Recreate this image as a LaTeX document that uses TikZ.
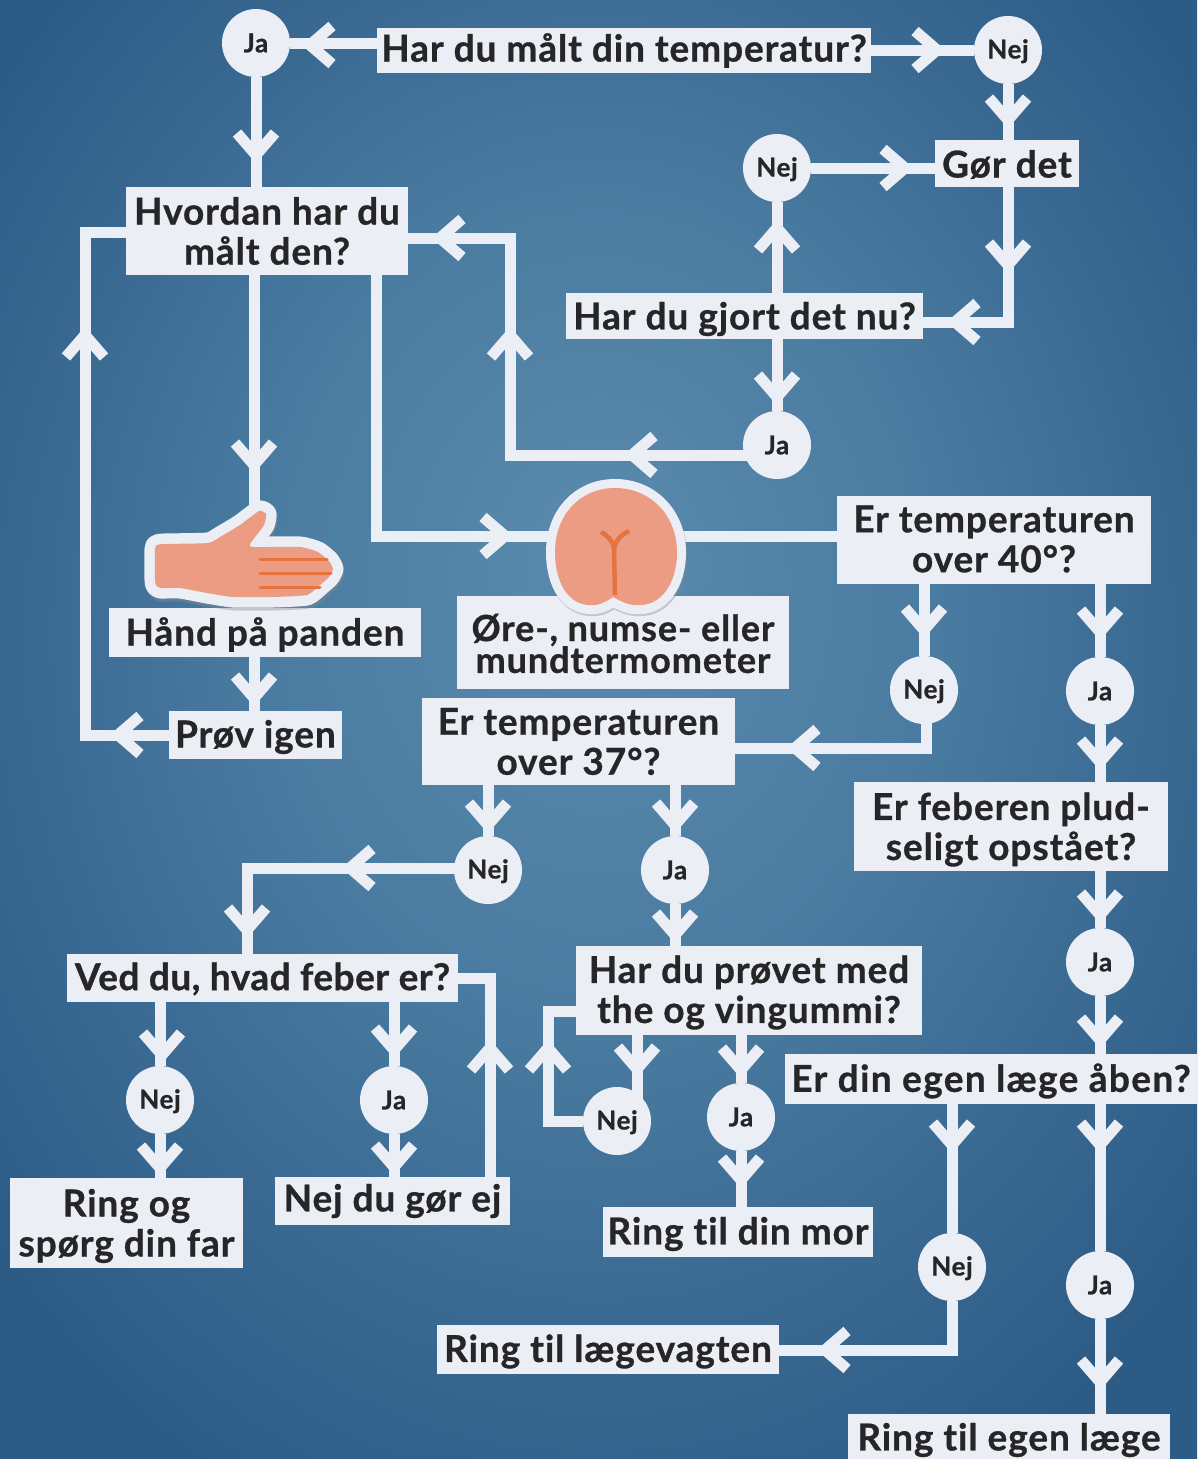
\documentclass[tikz,border=0pt]{standalone}
\usepackage{fontspec}
\setmainfont{Lato}[LetterSpace=2.5,Ligatures=NoCommon,BoldFeatures={FakeBold=0.8}]
\usetikzlibrary{backgrounds}
\pgfdeclarelayer{bgl}\pgfdeclarelayer{conl}\pgfsetlayers{bgl,conl,main}
\definecolor{paper}{HTML}{ECEEF5}
\definecolor{ink}{HTML}{262628}
\definecolor{skin}{HTML}{EB9C82}
\definecolor{crease}{HTML}{E4733F}
\definecolor{bgA}{HTML}{5B8CAF}
\definecolor{bgB}{HTML}{4A7BA0}
\definecolor{bgC}{HTML}{2C5B86}
\pgfdeclareradialshading{bgrad}{\pgfpoint{0bp}{6bp}}{color(0bp)=(bgA);color(14bp)=(bgB);color(32bp)=(bgC);color(50bp)=(bgC)}
\tikzset{
  box/.style={fill=paper,inner sep=0pt},
  boxtext/.style={inner sep=0pt,text=ink,align=center,font=\fontsize{37}{40}\selectfont\bfseries},
  smalltext/.style={inner sep=0pt,text=ink,align=center,font=\fontsize{36}{30}\selectfont\bfseries},
  yn/.style={circle,fill=paper,minimum size=68pt,inner sep=0pt,text=ink,font=\fontsize{26}{28}\selectfont\bfseries},
  nejnode/.style={yn,text height=21.7pt},
  link/.style={draw=paper,line width=11pt,line join=miter},
  chevron/.style={draw=paper,line width=11pt,line join=miter,line cap=butt},
  cutout/.style={draw=paper,line width=21pt,line join=round},
  shadowline/.style={draw=black!45,opacity=.4,line width=21pt,line join=round},
  skinfill/.style={fill=skin},
  creaseline/.style={draw=crease,line width=3pt,line cap=round}
}
\newcommand\bx[7][0]{\node[box,minimum width={(#5-#3)*1pt},minimum height={(#6-#4)*1pt}] (#2) at ({(#3+#5)/2},{(#4+#6)/2}) {};
  \node[boxtext] (#2t) at ([yshift=-#1pt]#2.center) {#7};}
\newcommand\yesno[4]{\node[yn] (#1) at (#2,#3) {#4};}
\newcommand\nono[3]{\node[nejnode] (#1) at (#2,#3) {Nej};}
\newcommand\chev[3]{\draw[chevron,shift={(#1,#2)},rotate=#3] (-19,-22) -- (0,0) -- (19,-22);}
\begin{document}
\begin{tikzpicture}[x=1pt,y=-1pt]
\useasboundingbox (0,0) rectangle (1197,1459);
\begin{pgfonlayer}{bgl}
\shade[shading=bgrad] (0,0) rectangle (1197,1459);
\end{pgfonlayer}
% round nodes
\yesno{jaA}{256}{43}{Ja}
\nono{nejA}{1008}{50}
\nono{nejB}{777}{168}
\yesno{jaB}{777}{445}{Ja}
\nono{nejC}{924}{690}
\yesno{jaC}{1100}{691}{Ja}
\nono{nejD}{488}{870}
\yesno{jaD}{675}{870}{Ja}
\yesno{jaE}{1100}{962}{Ja}
\nono{nejE}{160}{1100}
\yesno{jaF}{394}{1100}{Ja}
\nono{nejF}{617}{1121}
\yesno{jaG}{741}{1117}{Ja}
\nono{nejG}{952}{1267}
\yesno{jaH}{1100}{1285}{Ja}
% boxes
\bx{maalt}{377}{28}{871}{73}{Har du målt din temperatur?}
\bx[1]{goer}{935}{140}{1079}{187}{Gør det}
\bx{hvordan}{126}{187}{408}{275}{Hvordan har du\\målt den?}
\bx[3]{gjort}{566}{293}{923}{339}{Har du gjort det nu?}
\bx[-1]{over}{837}{496}{1151}{584}{Er temperaturen\\over 40°?}
\bx[2]{haand}{109}{608}{421}{657}{Hånd på panden}
\bx[2]{proev}{169}{711}{342}{759}{Prøv igen}
\node[box,minimum width=332pt,minimum height=93pt] (term) at (623,642.5) {};
\bx{lav}{422}{698}{735}{785}{Er temperaturen\\over 37°?}
\bx[3]{feber}{854}{782}{1168}{871}{Er feberen plud-\\seligt opstået?}
\bx[1]{ved}{67}{954}{458}{1002}{\addfontfeature{LetterSpace=1.3}Ved du, hvad feber er?}
\bx[2]{the}{576}{946}{922}{1035}{Har du prøvet med\\the og vingummi?}
\bx[2]{aaben}{785}{1054}{1197}{1104}{\addfontfeature{LetterSpace=3.7}Er din egen læge åben?}
\bx[3]{far}{10}{1178}{243}{1268}{Ring og\\spørg din far}
\bx{gorej}{275}{1177}{510}{1225}{Nej du gør ej}
\bx[2]{mor}{603}{1207}{873}{1257}{Ring til din mor}
\bx[2]{vagt}{437}{1325}{779}{1374}{Ring til lægevagten}
\bx[3]{egen}{848}{1414}{1170}{1460}{Ring til egen læge}
% pictures
\coordinate (handtop) at (254,520);
\coordinate (seat) at (615,545);
\def\handpath{plot[smooth cycle,tension=.3] coordinates {(155,549)(157,545)(164,544)(208,543)(220,537)(240,525)(259,511)(266,514)(264,525)(250,544)(254,547)(300,547)(318,552)(329,561)(333,569)(329,577)(320,585)(307,595)(273,597)(233,597)(207,593)(180,588)(160,588)(156,585)(155,580)}}
\def\seatpath{(613,597) .. controls (622,602) and (630,606) .. (640,605) .. controls (660,605) and (677,585) .. (677,552) .. controls (677,515) and (650,488) .. (615,488) .. controls (580,488) and (555,515) .. (555,552) .. controls (555,585) and (570,605) .. (590,605) .. controls (598,606) and (606,602) .. (613,597) -- cycle}
\path[shadowline,shift={(1,3)}] \handpath;
\path[cutout] \handpath;
\path[skinfill] \handpath;
\draw[creaseline] (260,559) -- (327,559);
\draw[creaseline] (260,573) -- (331,573);
\draw[creaseline] (260,587) -- (320,587);
\path[shadowline,line width=18pt,shift={(1,2)}] \seatpath;
\path[cutout,line width=18pt] \seatpath;
\path[skinfill] \seatpath;
\draw[creaseline,line width=4.5pt,line join=round,line cap=butt] (615,595) -- (614,548) .. controls (612,540) and (608,536) .. (601,532);
\draw[creaseline,line width=4.5pt,line cap=butt] (614,548) .. controls (616,540) and (621,535) .. (629,531);
\node[smalltext] (termt) at ([yshift=-1pt]term.center) {Øre-, numse- eller\\[-1pt]mundtermometer};
% connectors
\begin{pgfonlayer}{conl}
\draw[link] (jaA) -- (jaA -| maalt.west);
\chev{310}{45}{-90}
\draw[link] (nejA) -- (nejA -| maalt.east);
\chev{937}{50}{90}
\draw[link] (jaA) -- (jaA |- hvordan.north);
\chev{256}{155}{0}
\draw[link] (nejA) -- (nejA |- goer.north);
\chev{1008}{120}{0}
\draw[link] (nejB) -- (nejB -| goer.west);
\chev{905}{168}{90}
\coordinate (kneeA) at (1008,322);
\draw[link] (goer.south -| kneeA) -- (kneeA) -- (kneeA -| gjort.east);
\chev{1008}{265}{0}
\chev{955}{322}{-90}
\draw[link] (gjort.north -| nejB) -- (nejB);
\chev{777}{228}{180}
\draw[link] (gjort.south -| jaB) -- (jaB);
\chev{777}{397}{0}
\coordinate (kneeB) at (510,455);
\coordinate (kneeC) at (510,238);
\draw[link] (jaB.center |- kneeB) -- (kneeB) -- (kneeC) -- (kneeC -| hvordan.east);
\chev{632}{455}{-90}
\chev{510}{335}{180}
\chev{440}{238}{-90}
\coordinate (kneeD) at (85,735);
\coordinate (kneeE) at (85,232);
\draw[link] (proev.west |- kneeD) -- (kneeD) -- (kneeE) -- (kneeE -| hvordan.west);
\chev{118}{735}{-90}
\chev{85}{335}{180}
\draw[link] (hvordan.south -| handtop) -- (handtop);
\chev{254}{465}{0}
\coordinate (kneeF) at (376,536);
\draw[link] (hvordan.south -| kneeF) -- (kneeF) -- (kneeF -| seat);
\chev{505}{536}{90}
\draw[link] (kneeF -| seat) -- (kneeF -| over.west);
\draw[link] (haand.south -| handtop) -- (proev.north -| handtop);
\chev{254}{698}{0}
\draw[link] (over.south -| nejC) -- (nejC);
\chev{924}{630}{0}
\draw[link] (over.south -| jaC) -- (jaC);
\chev{1100}{632}{0}
\coordinate (kneeG) at (926,748);
\draw[link] (nejC.center -| kneeG) -- (kneeG) -- (kneeG -| lav.east);
\chev{795}{748}{-90}
\draw[link] (jaC) -- (jaC |- feber.north);
\chev{1100}{762}{0}
\draw[link] (feber.south -| jaE) -- (jaE);
\chev{1100}{915}{0}
\draw[link] (jaE) -- (jaE |- aaben.north);
\chev{1100}{1040}{0}
\draw[link] (lav.south -| nejD) -- (nejD);
\chev{488}{825}{0}
\draw[link] (lav.south -| jaD) -- (jaD);
\chev{675}{825}{0}
\coordinate (kneeH) at (247,868);
\draw[link] (nejD.center |- kneeH) -- (kneeH) -- (kneeH |- ved.north);
\chev{350}{868}{-90}
\chev{247}{930}{0}
\draw[link] (jaD) -- (jaD |- the.north);
\chev{675}{935}{0}
\draw[link] (ved.south -| nejE) -- (nejE);
\chev{162}{1055}{0}
\draw[link] (ved.south -| jaF) -- (jaF);
\chev{394}{1050}{0}
\draw[link] (nejE) -- (nejE |- far.north);
\chev{160}{1168}{0}
\draw[link] (jaF) -- (jaF |- gorej.north);
\chev{394}{1167}{0}
\coordinate (kneeI) at (490,978);
\draw[link] (gorej.north -| kneeI) -- (kneeI) -- (kneeI -| ved.east);
\chev{490}{1048}{180}
\coordinate (portJ) at (637,1121);
\draw[link] (the.south -| portJ) -- (portJ);
\chev{637}{1069}{0}
\coordinate (kneeJ) at (548,1121);
\coordinate (kneeK) at (548,1011);
\draw[link] (nejF) -- (kneeJ) -- (kneeK) -- (kneeK -| the.west);
\chev{548}{1048}{180}
\draw[link] (the.south -| jaG) -- (jaG);
\chev{741}{1070}{0}
\draw[link] (jaG) -- (jaG |- mor.north);
\chev{741}{1180}{0}
\draw[link] (aaben.south -| nejG) -- (nejG);
\chev{952}{1145}{0}
\draw[link] (aaben.south -| jaH) -- (jaH);
\chev{1100}{1145}{0}
\coordinate (kneeL) at (952,1350);
\draw[link] (nejG) -- (kneeL) -- (kneeL -| vagt.east);
\chev{825}{1350}{-90}
\draw[link] (jaH) -- (jaH |- egen.north);
\chev{1100}{1382}{0}
\end{pgfonlayer}
\end{tikzpicture}
\end{document}
